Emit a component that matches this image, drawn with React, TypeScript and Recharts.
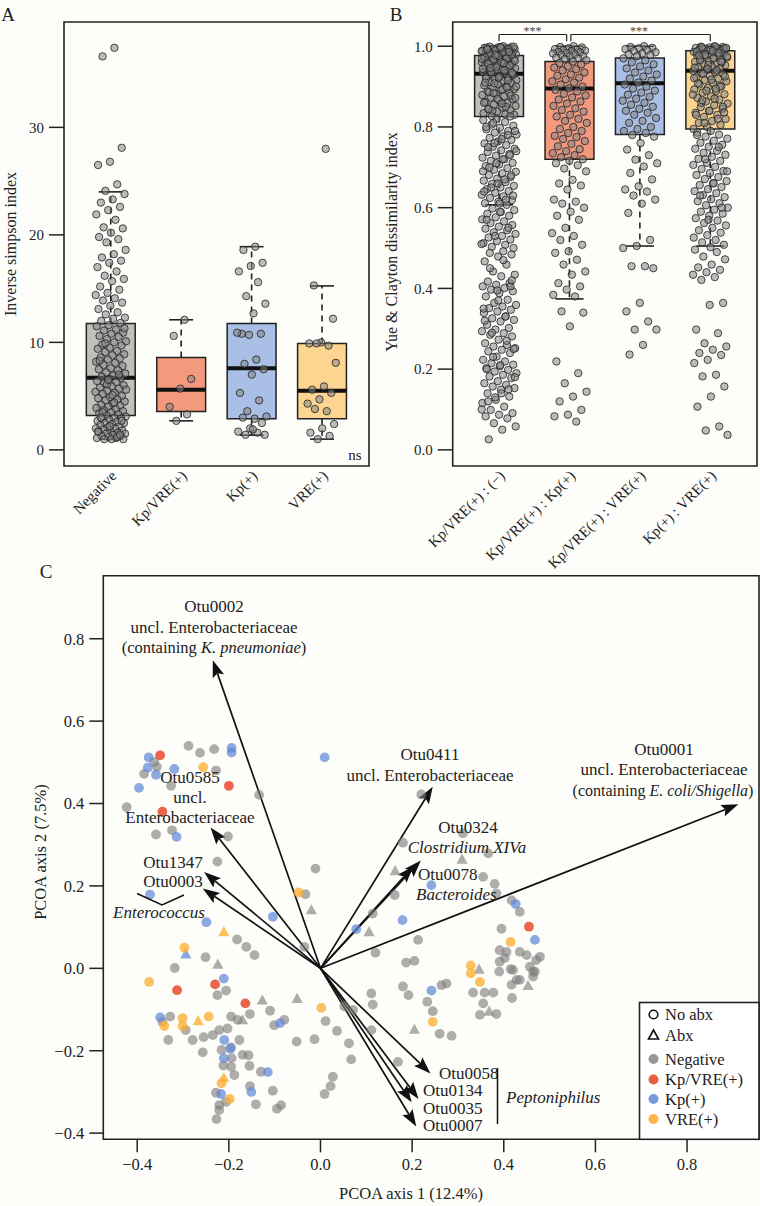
import React from 'react';
import { ScatterChart, Scatter, XAxis, YAxis, ReferenceArea, ReferenceLine } from 'recharts';

const FONT = '"Liberation Serif", "Times New Roman", serif';
const INK = '#222';

// ---------------- Panel A data ----------------
const catsA = ['Negative', 'Kp/VRE(+)', 'Kp(+)', 'VRE(+)'];
const fillsAB = ['#c2bebb', '#f3997d', '#a9bfe5', '#fdd590'];
const minA = [1.0, 2.7, 1.37, 1.0];
const q1A = [3.2, 3.57, 2.9, 2.9];
const medA = [6.7, 5.6, 7.6, 5.5];
const q3A = [11.75, 8.6, 11.75, 9.9];
const maxA = [24.0, 12.1, 18.9, 15.25];

const negA = [37.4, 36.6, 28.1, 26.8, 26.5, 24.7, 24.1, 23.8, 23.3, 23.0, 22.6, 22.3, 21.9, 21.4, 20.7, 20.6, 20.2, 19.8, 19.6, 19.3, 18.6, 18.2, 17.9, 17.6, 17.4, 17.0, 16.6, 16.2, 15.9, 15.7, 15.2, 14.9, 14.6, 14.4, 14.1, 13.9, 13.7, 13.4, 13.1, 12.8, 12.6, 12.3, 12.2, 12.0, 11.8, 11.6, 11.5, 11.2, 11.1, 10.9, 10.8, 10.6, 10.5, 10.3, 10.1, 10.0, 9.8, 9.7, 9.5, 9.4, 9.2, 9.1, 8.9, 8.8, 8.6, 8.5, 8.4, 8.2, 8.1, 7.9, 7.8, 7.6, 7.5, 7.4, 7.2, 7.1, 6.9, 6.8, 6.7, 6.6, 6.4, 6.3, 6.2, 6.0, 5.9, 5.8, 5.7, 5.5, 5.4, 5.3, 5.2, 5.0, 4.9, 4.8, 4.7, 4.6, 4.5, 4.3, 4.2, 4.1, 4.0, 3.9, 3.8, 3.7, 3.6, 3.5, 3.4, 3.3, 3.2, 3.1, 3.0, 2.9, 2.9, 2.8, 2.7, 2.6, 2.5, 2.5, 2.4, 2.3, 2.2, 2.1, 2.0, 2.0, 1.9, 1.8, 1.8, 1.7, 1.6, 1.5, 1.5, 1.4, 1.3, 1.3, 1.2, 1.1, 1.1, 1.0, 1.0, 1.0, 8.3, 7.0, 6.1, 5.6, 4.4, 3.5, 2.7, 2.2, 1.7, 1.2, 9.9, 11.3, 5.1, 3.0, 1.4, 6.5];
const kpvreA = [12.1, 10.6, 6.6, 5.7, 4.0, 3.3, 2.7];
const kpA = [18.9, 18.6, 17.4, 17.1, 16.6, 15.6, 14.3, 13.6, 12.7, 10.8, 10.8, 10.7, 10.9, 8.4, 8.0, 7.5, 7.0, 5.3, 4.6, 3.6, 3.1, 2.9, 3.0, 2.5, 2.0, 1.7, 1.6, 1.4, 1.4, 1.9];
const vreA = [28.0, 15.3, 12.2, 10.0, 9.9, 9.7, 9.9, 8.1, 5.9, 5.6, 5.3, 4.7, 4.3, 3.6, 3.8, 2.4, 2.0, 1.6, 1.3, 1.0];
const spreadA = [0.22, 0.2, 0.22, 0.22];

// ---------------- Panel B data ----------------
const catsB = ['Kp/VRE(+) : (\u2212)', 'Kp/VRE(+) : Kp(+)', 'Kp/VRE(+) : VRE(+)', 'Kp(+) : VRE(+)'];
const minB = [0.607, 0.374, 0.505, 0.505];
const q1B = [0.826, 0.72, 0.781, 0.795];
const medB = [0.932, 0.895, 0.908, 0.939];
const q3B = [0.977, 0.962, 0.971, 0.989];
const maxB = [1.0, 1.0, 1.0, 1.0];

const negB = [1.0, 0.999, 0.998, 0.997, 0.996, 0.995, 0.994, 0.993, 0.992, 0.991, 0.99, 0.989, 0.988, 0.987, 0.986, 0.985, 0.984, 0.983, 0.982, 0.981, 0.98, 0.978, 0.977, 0.975, 0.974, 0.972, 0.971, 0.969, 0.968, 0.966, 0.965, 0.963, 0.961, 0.96, 0.958, 0.956, 0.955, 0.953, 0.951, 0.949, 0.947, 0.945, 0.943, 0.941, 0.939, 0.937, 0.935, 0.933, 0.931, 0.929, 0.926, 0.924, 0.921, 0.919, 0.916, 0.914, 0.911, 0.909, 0.906, 0.903, 0.9, 0.897, 0.894, 0.891, 0.888, 0.885, 0.882, 0.879, 0.876, 0.873, 0.869, 0.866, 0.862, 0.859, 0.855, 0.852, 0.848, 0.845, 0.841, 0.838, 0.834, 0.831, 0.827, 0.999, 0.998, 0.996, 0.993, 0.99, 0.988, 0.985, 0.981, 0.979, 0.976, 0.973, 0.97, 0.967, 0.964, 0.96, 0.957, 0.952, 0.948, 0.944, 0.94, 0.936, 0.93, 0.925, 0.92, 0.915, 0.908, 0.9, 0.893, 0.886, 0.878, 0.87, 0.86, 0.85, 0.84, 0.83, 0.997, 0.992, 0.986, 0.978, 0.969, 0.958, 0.946, 0.934, 0.922, 0.91, 0.898, 0.884, 0.872, 0.858, 0.844,
  0.826, 0.82, 0.817, 0.812, 0.806, 0.803, 0.798, 0.794, 0.79, 0.786, 0.781, 0.777, 0.773, 0.768, 0.764, 0.759, 0.755, 0.751, 0.746, 0.742, 0.738, 0.733, 0.729, 0.724, 0.72, 0.716, 0.711, 0.707, 0.703, 0.698, 0.694, 0.689, 0.685, 0.681, 0.676, 0.672, 0.667, 0.663, 0.659, 0.654, 0.65, 0.646, 0.641, 0.637, 0.632, 0.628, 0.624, 0.619, 0.615, 0.611, 0.607, 0.81, 0.79, 0.77, 0.75, 0.73, 0.71, 0.69, 0.67, 0.65, 0.63, 0.61, 0.8, 0.78, 0.76, 0.74, 0.72, 0.7, 0.68, 0.66, 0.64, 0.62,
  0.598, 0.594, 0.589, 0.585, 0.58, 0.576, 0.571, 0.566, 0.562, 0.557, 0.553, 0.548, 0.544, 0.539, 0.535, 0.53, 0.526, 0.521, 0.517, 0.512, 0.508, 0.503, 0.5, 0.59, 0.57, 0.55, 0.53, 0.51,
  0.492, 0.488, 0.484, 0.479, 0.467, 0.459, 0.442, 0.434, 0.43, 0.417, 0.413, 0.409, 0.405, 0.401, 0.397, 0.393, 0.388, 0.38, 0.372, 0.364, 0.359, 0.355, 0.351, 0.347, 0.343, 0.339, 0.331, 0.326, 0.322, 0.318, 0.31, 0.302, 0.298, 0.294, 0.289, 0.285, 0.281, 0.273, 0.264, 0.26, 0.256, 0.252, 0.248, 0.244, 0.24, 0.231, 0.223, 0.219, 0.215, 0.211, 0.207, 0.202, 0.198, 0.194, 0.19, 0.186, 0.182, 0.178, 0.17, 0.165, 0.161, 0.157, 0.153, 0.149, 0.14, 0.132, 0.124, 0.116, 0.107, 0.099, 0.091, 0.087, 0.083, 0.078, 0.066, 0.058, 0.05, 0.026, 0.405, 0.395, 0.35, 0.33, 0.29, 0.25, 0.21, 0.2, 0.15, 0.13, 0.1, 0.47, 0.45, 0.42, 0.37, 0.32, 0.27, 0.23, 0.18, 0.14, 0.12];
const kpvreKpB = [1.0, 0.998, 0.997, 0.995, 0.993, 0.991, 0.99, 0.989, 0.988, 0.986, 0.985, 0.983, 0.982, 0.98, 0.978, 0.976, 0.975, 0.972, 0.97, 0.968, 0.965, 0.962, 0.958, 0.955, 0.95, 0.947, 0.943, 0.94, 0.935, 0.93, 0.927, 0.922, 0.918, 0.913, 0.91, 0.905, 0.9, 0.896, 0.892, 0.888, 0.882, 0.878, 0.873, 0.868, 0.863, 0.858, 0.852, 0.846, 0.842, 0.838, 0.83, 0.826, 0.82, 0.815, 0.81, 0.8, 0.795, 0.79, 0.785, 0.778, 0.775, 0.77, 0.765, 0.758, 0.752, 0.745, 0.74, 0.735, 0.73, 0.725, 0.72, 0.716, 0.71, 0.705, 0.697, 0.69, 0.669, 0.66, 0.655, 0.645, 0.62, 0.615, 0.61, 0.6, 0.59, 0.58, 0.57, 0.55, 0.537, 0.53, 0.52, 0.508, 0.492, 0.488, 0.471, 0.459, 0.442, 0.434, 0.413, 0.405, 0.397, 0.384, 0.38, 0.343, 0.34, 0.306, 0.219, 0.19, 0.165, 0.144, 0.132, 0.12, 0.099, 0.087, 0.083, 0.07];
const kpvreVreB = [1.0, 0.998, 0.996, 0.995, 0.993, 0.99, 0.988, 0.985, 0.982, 0.98, 0.978, 0.975, 0.97, 0.965, 0.96, 0.955, 0.95, 0.945, 0.94, 0.935, 0.93, 0.925, 0.92, 0.915, 0.91, 0.905, 0.9, 0.895, 0.89, 0.885, 0.88, 0.875, 0.87, 0.865, 0.86, 0.855, 0.85, 0.845, 0.84, 0.835, 0.83, 0.822, 0.815, 0.81, 0.8, 0.795, 0.79, 0.785, 0.78, 0.776, 0.76, 0.744, 0.73, 0.719, 0.71, 0.702, 0.686, 0.67, 0.653, 0.645, 0.64, 0.63, 0.62, 0.61, 0.587, 0.52, 0.505, 0.5, 0.455, 0.455, 0.45, 0.364, 0.343, 0.318, 0.298, 0.298, 0.26, 0.236];
const kpVreB = [1.0, 0.999, 0.998, 0.997, 0.996, 0.995, 0.994, 0.993, 0.992, 0.99, 0.989, 0.988, 0.986, 0.985, 0.983, 0.982, 0.98, 0.978, 0.976, 0.974, 0.972, 0.97, 0.968, 0.966, 0.963, 0.961, 0.958, 0.956, 0.953, 0.95, 0.948, 0.945, 0.942, 0.939, 0.936, 0.933, 0.93, 0.926, 0.923, 0.92, 0.916, 0.913, 0.909, 0.905, 0.901, 0.897, 0.893, 0.889, 0.885, 0.881, 0.876, 0.872, 0.868, 0.863, 0.858, 0.854, 0.849, 0.845, 0.84, 0.835, 0.83, 0.825, 0.82, 0.815, 0.81, 0.805, 0.8, 0.795, 0.999, 0.997, 0.994, 0.991, 0.987, 0.984, 0.979, 0.975, 0.97, 0.965, 0.96, 0.954, 0.947, 0.94, 0.932, 0.925, 0.917, 0.908, 0.9, 0.89, 0.88, 0.87, 0.86, 0.85, 0.84, 0.83, 0.82, 0.81, 0.996, 0.988, 0.977, 0.962, 0.944, 0.921, 0.895, 0.866, 0.836,
  0.79, 0.786, 0.781, 0.776, 0.771, 0.766, 0.761, 0.756, 0.751, 0.746, 0.741, 0.736, 0.731, 0.726, 0.721, 0.716, 0.711, 0.706, 0.701, 0.696, 0.691, 0.686, 0.681, 0.676, 0.671, 0.666, 0.661, 0.656, 0.651, 0.646, 0.641, 0.636, 0.631, 0.626, 0.621, 0.616, 0.611, 0.606, 0.6, 0.595, 0.59, 0.585, 0.58, 0.574, 0.568, 0.562, 0.556, 0.55, 0.544, 0.538, 0.532, 0.526, 0.52, 0.514, 0.508, 0.502, 0.78, 0.75, 0.72, 0.69, 0.66, 0.63, 0.6, 0.57,
  0.496, 0.49, 0.479, 0.472, 0.459, 0.452, 0.446, 0.44, 0.434, 0.428, 0.421, 0.364, 0.359, 0.298, 0.289, 0.264, 0.256, 0.248, 0.24, 0.235, 0.223, 0.215, 0.186, 0.182, 0.157, 0.132, 0.107, 0.058, 0.048, 0.037];
const spreadB = [0.25, 0.25, 0.25, 0.25];

// ---------------- Panel C data ----------------
type P = [number, number];
const negC: P[] = [[-0.288, 0.540], [-0.263, 0.523], [-0.232, 0.532], [-0.363, 0.501], [-0.357, 0.489], [-0.228, 0.480], [-0.385, 0.472], [-0.326, 0.443], [-0.134, 0.421], [-0.423, 0.391], [-0.359, 0.325], [-0.324, 0.335], [-0.202, 0.320], [-0.225, 0.259], [-0.011, 0.242], [-0.033, 0.180], [-0.182, 0.070], [-0.162, 0.052], [-0.144, 0.032], [-0.035, 0.052], [-0.251, 0.027], [-0.318, 0.001], [-0.206, -0.054], [-0.225, -0.065], [-0.328, -0.117], [-0.345, -0.130], [-0.294, -0.150], [-0.195, -0.117], [-0.181, -0.125], [-0.154, -0.111], [-0.110, -0.103], [-0.101, -0.138], [0.011, -0.128], [0.036, -0.152], [-0.332, -0.174], [-0.279, -0.174], [-0.255, -0.167], [-0.235, -0.162], [-0.221, -0.150], [-0.203, -0.146], [-0.052, -0.178], [-0.013, -0.172], [-0.177, -0.174], [-0.195, -0.192], [-0.216, -0.198], [-0.257, -0.204], [-0.194, -0.218], [-0.170, -0.210], [-0.157, -0.211], [-0.212, -0.236], [-0.195, -0.239], [-0.155, -0.237], [-0.188, -0.259], [-0.130, -0.251], [0.027, -0.263], [0.022, -0.286], [0.009, -0.305], [-0.154, -0.286], [-0.228, -0.302], [-0.104, -0.297], [-0.206, -0.324], [-0.221, -0.332], [-0.141, -0.330], [-0.086, -0.332], [-0.095, -0.341], [-0.221, -0.344], [-0.227, -0.366],
  [0.180, 0.305], [0.311, 0.328], [0.366, 0.279], [0.355, 0.222], [0.380, 0.205], [0.384, 0.182], [0.162, 0.178], [0.114, 0.133], [0.213, 0.069], [0.120, 0.038], [0.417, 0.165], [0.435, 0.137], [0.395, 0.096], [0.391, 0.044], [0.187, 0.014], [0.205, 0.018], [0.390, -0.008], [0.420, -0.004], [0.435, -0.028], [0.464, -0.008], [0.180, -0.044], [0.192, -0.065], [0.264, -0.041], [0.275, -0.037], [0.111, -0.061], [0.333, -0.059], [0.358, -0.059], [0.377, -0.059], [0.418, -0.072], [0.233, -0.081], [0.114, -0.088], [0.355, -0.085], [0.384, -0.111], [0.052, -0.092], [0.071, -0.101], [0.391, 0.016], [0.415, -0.002], [0.457, 0.004], [0.468, -0.008], [0.471, 0.020], [0.464, -0.020], [0.428, -0.028], [0.417, -0.040], [0.479, 0.028], [0.450, 0.032], [0.406, 0.040], [0.435, 0.040], [0.402, 0.025], [0.348, -0.113], [0.245, -0.104], [0.260, -0.159], [0.286, -0.164], [0.169, -0.227], [0.062, -0.182], [0.067, -0.221], [0.111, -0.150], [-0.079, -0.125], [0.220, 0.422]];
const negTriC: P[] = [[-0.020, 0.142], [-0.224, 0.010], [-0.127, -0.077], [-0.051, -0.073], [-0.170, -0.125], [0.163, 0.237], [0.309, 0.265], [0.106, 0.089], [0.346, -0.002], [0.453, -0.042], [0.368, -0.104], [0.205, -0.148]];
const kpvreC: P[] = [[-0.350, 0.517], [-0.200, 0.443], [-0.345, 0.380], [-0.313, -0.053], [-0.230, -0.039], [-0.164, -0.085], [0.455, 0.101]];
const kpC: P[] = [[-0.194, 0.535], [-0.194, 0.524], [-0.375, 0.512], [-0.377, 0.487], [-0.319, 0.484], [-0.359, 0.470], [-0.396, 0.438], [0.009, 0.512], [-0.314, 0.319], [-0.372, 0.179], [-0.104, 0.125], [-0.249, 0.112], [-0.211, -0.025], [-0.350, -0.119], [-0.088, -0.133], [-0.210, -0.174], [-0.197, -0.195], [-0.211, -0.218], [-0.115, -0.252], [-0.151, -0.300], [-0.217, -0.305], [0.242, 0.202], [0.179, 0.117], [0.078, 0.095], [0.426, 0.156], [0.468, 0.069], [0.242, -0.054]];
const kpTriC: P[] = [[-0.294, 0.035]];
const vreC: P[] = [[-0.256, 0.488], [-0.048, 0.184], [-0.297, 0.050], [-0.374, -0.033], [0.002, -0.096], [-0.301, -0.121], [-0.244, -0.117], [-0.341, -0.140], [-0.301, -0.140], [-0.216, -0.279], [-0.198, -0.317], [0.415, 0.064], [0.328, 0.007], [0.328, -0.012], [0.348, -0.033], [0.245, -0.130]];
const vreTriC: P[] = [[-0.211, 0.089], [-0.267, -0.127], [-0.211, -0.265]];

const arrowNames = ['Otu0002', 'Otu0585', 'Otu1347', 'Otu0003', 'Otu0411', 'Otu0324', 'Otu0078', 'Otu0001', 'Otu0058', 'Otu0134', 'Otu0035', 'Otu0007'];
const arrowX = [-0.235, -0.240, -0.254, -0.257, 0.245, 0.219, 0.203, 0.912, 0.240, 0.214, 0.199, 0.209];
const arrowY = [0.748, 0.342, 0.234, 0.194, 0.441, 0.262, 0.248, 0.398, -0.255, -0.317, -0.325, -0.384];
const ticksC = [-0.4, -0.2, 0.0, 0.2, 0.4, 0.6, 0.8];

const colNeg = '#7f7d7b';
const colKpVre = '#e94a2c';
const colKp = '#5f88d6';
const colVre = '#fdae33';

// ---------------- helpers ----------------
const jitter = (i: number, spread: number) => ((((i + 1) * 0.6180339887) % 1) - 0.5) * 2 * spread;

const toPts = (groups: number[][], spreads: number[]) =>
  groups.flatMap((vals, g) => vals.map((v, i) => ({ x: g + 1 + jitter(i, spreads[g]), y: v })));

const ptsA = toPts([negA, kpvreA, kpA, vreA], spreadA);
const ptsB = toPts([negB, kpvreKpB, kpvreVreB, kpVreB], spreadB);
const toXY = (arr: P[]) => arr.map(([x, y]) => ({ x, y }));

const dotAB = (p: any) => (
  <circle cx={p.cx} cy={p.cy} r={3.7} fill="#858585" fillOpacity={0.55} stroke="#222" strokeOpacity={0.8} strokeWidth={1} />
);
const dotC = (color: string, op: number) => (p: any) => (
  <circle cx={p.cx} cy={p.cy} r={4.9} fill={color} fillOpacity={op} />
);
const triC = (color: string, op: number) => (p: any) => {
  const s = 5.6;
  return <polygon points={`${p.cx},${p.cy - s} ${p.cx - s},${p.cy + s * 0.8} ${p.cx + s},${p.cy + s * 0.8}`} fill={color} fillOpacity={op} />;
};

const ArrowShape = (p: any) => {
  const { x1, y1, x2, y2 } = p;
  const dx = x2 - x1, dy = y2 - y1;
  const len = Math.hypot(dx, dy) || 1;
  const ux = dx / len, uy = dy / len;
  const hl = 17, hw = 6;
  const bx = x2 - ux * hl, by = y2 - uy * hl;
  return (
    <g>
      <line x1={x1} y1={y1} x2={bx + ux * 3} y2={by + uy * 3} stroke="#111" strokeWidth={1.7} />
      <polygon points={`${x2},${y2} ${bx - uy * hw},${by + ux * hw} ${bx + ux * 3},${by + uy * 3} ${bx + uy * hw},${by - ux * hw}`} fill="#111" />
    </g>
  );
};

const makeRotTick = (labels: string[]) => (p: any) => {
  const { x, y, payload } = p;
  return (
    <g transform={`translate(${x + 3},${y + 7})`}>
      <text x={0} y={0} dy="0.35em" transform="rotate(-45)" textAnchor="end" fontSize={15} fill={INK} fontFamily={FONT}>
        {labels[Math.round(payload.value) - 1]}
      </text>
    </g>
  );
};

function boxElements(key: string, mins: number[], q1s: number[], meds: number[], q3s: number[], maxs: number[], hw: number, cw: number, under: boolean) {
  const out: any[] = [];
  mins.forEach((_, g) => {
    const c = g + 1;
    if (under) {
      out.push(
        <ReferenceArea key={`${key}b${g}`} x1={c - hw} x2={c + hw} y1={q1s[g]} y2={q3s[g]} fill={fillsAB[g]} fillOpacity={1} stroke={INK} strokeWidth={1.5} ifOverflow="visible" />
      );
    } else {
      out.push(
        <ReferenceLine key={`${key}wu${g}`} segment={[{ x: c, y: q3s[g] }, { x: c, y: maxs[g] }]} stroke={INK} strokeWidth={1.6} strokeDasharray="6 5" ifOverflow="visible" />,
        <ReferenceLine key={`${key}wl${g}`} segment={[{ x: c, y: q1s[g] }, { x: c, y: mins[g] }]} stroke={INK} strokeWidth={1.6} strokeDasharray="6 5" ifOverflow="visible" />,
        <ReferenceLine key={`${key}cu${g}`} segment={[{ x: c - cw, y: maxs[g] }, { x: c + cw, y: maxs[g] }]} stroke={INK} strokeWidth={1.6} ifOverflow="visible" />,
        <ReferenceLine key={`${key}cl${g}`} segment={[{ x: c - cw, y: mins[g] }, { x: c + cw, y: mins[g] }]} stroke={INK} strokeWidth={1.6} ifOverflow="visible" />,
        <ReferenceLine key={`${key}m${g}`} segment={[{ x: c - hw, y: meds[g] }, { x: c + hw, y: meds[g] }]} stroke="#111" strokeWidth={4} ifOverflow="visible" />
      );
    }
  });
  return out;
}

const tickStyle = { fontSize: 15, fill: INK, fontFamily: FONT };
const tickStyleC = { fontSize: 16.5, fill: INK, fontFamily: FONT };
const fmtMinus = (v: number, d: number) => (v < 0 ? '\u2212' : '') + Math.abs(v).toFixed(d);

function PanelA() {
  const xd: [number, number] = [0.336, 4.667];
  const yd: [number, number] = [-1.5, 39.8];
  return (
    <ScatterChart width={380} height={560} margin={{ top: 22, right: 11, bottom: 14, left: 0 }}>
      <XAxis type="number" dataKey="x" domain={xd} ticks={[1, 2, 3, 4]} interval={0} allowDataOverflow tickLine={false} axisLine={false} tickSize={0} tickMargin={0} height={80} tick={makeRotTick(catsA)} />
      <YAxis type="number" dataKey="y" domain={yd} ticks={[0, 10, 20, 30]} allowDataOverflow width={64} axisLine={false} tickSize={15} tickMargin={5} tickLine={{ stroke: INK, strokeWidth: 1.5 }} tick={tickStyle} />
      {boxElements('a', minA, q1A, medA, q3A, maxA, 0.347, 0.17, true)}
      <Scatter data={ptsA} shape={dotAB} isAnimationActive={false} />
      {boxElements('a', minA, q1A, medA, q3A, maxA, 0.347, 0.17, false)}
      <ReferenceArea x1={xd[0]} x2={xd[1]} y1={yd[0]} y2={yd[1]} fill="none" fillOpacity={0} stroke={INK} strokeWidth={1.6} ifOverflow="visible" />
    </ScatterChart>
  );
}

function PanelB() {
  const xd: [number, number] = [0.342, 4.663];
  const yd: [number, number] = [-0.04, 1.06];
  return (
    <ScatterChart width={380} height={560} margin={{ top: 22, right: 3, bottom: 14, left: 0 }}>
      <XAxis type="number" dataKey="x" domain={xd} ticks={[1, 2, 3, 4]} interval={0} allowDataOverflow tickLine={false} axisLine={false} tickSize={0} tickMargin={0} height={80} tick={makeRotTick(catsB)} />
      <YAxis type="number" dataKey="y" domain={yd} ticks={[0, 0.2, 0.4, 0.6, 0.8, 1.0]} tickFormatter={(v: number) => v.toFixed(1)} allowDataOverflow width={72.7} axisLine={false} tickSize={15} tickMargin={5} tickLine={{ stroke: INK, strokeWidth: 1.5 }} tick={tickStyle} />
      {boxElements('b', minB, q1B, medB, q3B, maxB, 0.347, 0.2, true)}
      <Scatter data={ptsB} shape={dotAB} isAnimationActive={false} />
      {boxElements('b', minB, q1B, medB, q3B, maxB, 0.347, 0.2, false)}
      <ReferenceLine segment={[{ x: 1, y: 1.029 }, { x: 1.96, y: 1.029 }]} stroke={INK} strokeWidth={1.2} ifOverflow="visible" />
      <ReferenceLine segment={[{ x: 1, y: 1.029 }, { x: 1, y: 1.012 }]} stroke={INK} strokeWidth={1.2} ifOverflow="visible" />
      <ReferenceLine segment={[{ x: 1.96, y: 1.029 }, { x: 1.96, y: 1.012 }]} stroke={INK} strokeWidth={1.2} ifOverflow="visible" />
      <ReferenceLine segment={[{ x: 2.02, y: 1.029 }, { x: 4, y: 1.029 }]} stroke={INK} strokeWidth={1.2} ifOverflow="visible" />
      <ReferenceLine segment={[{ x: 2.02, y: 1.029 }, { x: 2.02, y: 1.012 }]} stroke={INK} strokeWidth={1.2} ifOverflow="visible" />
      <ReferenceLine segment={[{ x: 4, y: 1.029 }, { x: 4, y: 1.012 }]} stroke={INK} strokeWidth={1.2} ifOverflow="visible" />
      <ReferenceArea x1={xd[0]} x2={xd[1]} y1={yd[0]} y2={yd[1]} fill="none" fillOpacity={0} stroke={INK} strokeWidth={1.6} ifOverflow="visible" />
    </ScatterChart>
  );
}

function PanelC() {
  const xd: [number, number] = [-0.474, 0.957];
  const yd: [number, number] = [-0.415, 0.953];
  return (
    <ScatterChart width={760} height={646} margin={{ top: 15.7, right: 1, bottom: 10, left: 0 }}>
      <XAxis type="number" dataKey="x" domain={xd} ticks={ticksC} interval={0} allowDataOverflow axisLine={false} tickSize={13} tickMargin={6} height={56.7} tickLine={{ stroke: INK, strokeWidth: 1.5 }} tick={tickStyleC} tickFormatter={(v: number) => fmtMinus(v, 1)} />
      <YAxis type="number" dataKey="y" domain={yd} ticks={ticksC} interval={0} allowDataOverflow width={103.3} axisLine={false} tickSize={14} tickMargin={5} tickLine={{ stroke: INK, strokeWidth: 1.5 }} tick={tickStyleC} tickFormatter={(v: number) => fmtMinus(v, 1)} />
      <Scatter data={toXY(negC)} shape={dotC(colNeg, 0.62)} isAnimationActive={false} />
      <Scatter data={toXY(negTriC)} shape={triC(colNeg, 0.62)} isAnimationActive={false} />
      <Scatter data={toXY(kpvreC)} shape={dotC(colKpVre, 0.85)} isAnimationActive={false} />
      <Scatter data={toXY(kpC)} shape={dotC(colKp, 0.72)} isAnimationActive={false} />
      <Scatter data={toXY(kpTriC)} shape={triC(colKp, 0.72)} isAnimationActive={false} />
      <Scatter data={toXY(vreC)} shape={dotC(colVre, 0.78)} isAnimationActive={false} />
      <Scatter data={toXY(vreTriC)} shape={triC(colVre, 0.78)} isAnimationActive={false} />
      {arrowNames.map((n, i) => (
        <ReferenceLine key={n} segment={[{ x: 0, y: 0 }, { x: arrowX[i], y: arrowY[i] }]} shape={ArrowShape} ifOverflow="visible" />
      ))}
      <ReferenceArea x1={xd[0]} x2={xd[1]} y1={yd[0]} y2={yd[1]} fill="none" fillOpacity={0} stroke={INK} strokeWidth={1.6} ifOverflow="visible" />
    </ScatterChart>
  );
}

const T = ({ x, y, children, anchor = 'middle', size = 17, italic = false, color = INK, rotate = 0 }: any) => (
  <text x={x} y={y} textAnchor={anchor} dominantBaseline="central" fontSize={size} fontStyle={italic ? 'italic' : 'normal'} fill={color} fontFamily={FONT}
    transform={rotate ? `rotate(${rotate},${x},${y})` : undefined}>
    {children}
  </text>
);

function Overlay() {
  const lgX = 653.5, lgT = 665;
  return (
    <svg width={760} height={1206} style={{ position: 'absolute', left: 0, top: 0, pointerEvents: 'none' }}>
      <T x={8} y={14} size={19}>A</T>
      <T x={396} y={14} size={19}>B</T>
      <T x={46} y={571} size={19}>C</T>
      <T x={10} y={244} size={16} rotate={-90}>Inverse simpson index</T>
      <T x={391} y={242} size={16} rotate={-90}>Yue &amp; Clayton dissimilarity index</T>
      <T x={355} y={455} size={15}>ns</T>
      <T x={532.5} y={31} size={12} color="#444">***</T>
      <T x={639} y={31} size={12} color="#444">***</T>

      <T x={411} y={1193} size={16.5}>PCOA axis 1 (12.4%)</T>
      <T x={40} y={852} size={16.5} rotate={-90}>PCOA axis 2 (7.5%)</T>

      <T x={214} y={606}>Otu0002</T>
      <T x={214} y={627}>uncl. Enterobacteriaceae</T>
      <T x={214} y={647} size={16.5}>(containing <tspan fontStyle="italic">K. pneumoniae</tspan>)</T>
      <T x={190} y={777}>Otu0585</T>
      <T x={190} y={797}>uncl.</T>
      <T x={190} y={817}>Enterobacteriaceae</T>
      <T x={173} y={862}>Otu1347</T>
      <T x={173} y={881}>Otu0003</T>
      <T x={159} y={912} italic>Enterococcus</T>
      <polyline points="137,893.5 162,905 184,895" fill="none" stroke="#111" strokeWidth={1.5} />
      <T x={430} y={754}>Otu0411</T>
      <T x={430} y={775}>uncl. Enterobacteriaceae</T>
      <T x={664} y={749}>Otu0001</T>
      <T x={664} y={769}>uncl. Enterobacteriaceae</T>
      <T x={663} y={790} size={16}>(containing <tspan fontStyle="italic">E. coli/Shigella</tspan>)</T>
      <T x={468} y={827}>Otu0324</T>
      <T x={467} y={847} italic>Clostridium XIVa</T>
      <T x={418} y={874} anchor="start">Otu0078</T>
      <T x={416} y={894} anchor="start" italic>Bacteroides</T>
      <T x={439} y={1073} anchor="start">Otu0058</T>
      <T x={423} y={1090} anchor="start">Otu0134</T>
      <T x={423} y={1108} anchor="start">Otu0035</T>
      <T x={423} y={1125} anchor="start">Otu0007</T>
      <line x1={497.5} y1={1068} x2={497.5} y2={1124} stroke="#111" strokeWidth={1.5} />
      <T x={506} y={1097} anchor="start" italic>Peptoniphilus</T>

      <rect x={639.5} y={1002.5} width={119.5} height={136.8} fill="#fff" stroke={INK} strokeWidth={1.6} />
      <circle cx={lgX} cy={1014.5} r={4.3} fill="none" stroke="#111" strokeWidth={1.6} />
      <T x={lgT} y={1014.5} anchor="start" size={16.5}>No abx</T>
      <polygon points={`${lgX},${1030} ${lgX - 5},${1039} ${lgX + 5},${1039}`} fill="none" stroke="#111" strokeWidth={1.6} />
      <T x={lgT} y={1035} anchor="start" size={16.5}>Abx</T>
      <circle cx={lgX} cy={1059} r={5} fill={colNeg} fillOpacity={0.8} />
      <T x={lgT} y={1059} anchor="start" size={16.5}>Negative</T>
      <circle cx={lgX} cy={1079.5} r={5} fill={colKpVre} fillOpacity={0.9} />
      <T x={lgT} y={1079.5} anchor="start" size={16.5}>Kp/VRE(+)</T>
      <circle cx={lgX} cy={1099} r={5} fill={colKp} fillOpacity={0.85} />
      <T x={lgT} y={1099} anchor="start" size={16.5}>Kp(+)</T>
      <circle cx={lgX} cy={1119} r={5} fill={colVre} fillOpacity={0.9} />
      <T x={lgT} y={1119} anchor="start" size={16.5}>VRE(+)</T>
    </svg>
  );
}

export default function App() {
  return (
    <div style={{ position: 'absolute', left: 0, top: 0, width: 760, height: 1206, background: '#fdfdfa', fontFamily: FONT, overflow: 'hidden' }}>
      <style>{'.recharts-surface { overflow: visible; }'}</style>
      <div style={{ position: 'absolute', left: 0, top: 0 }}><PanelA /></div>
      <div style={{ position: 'absolute', left: 380, top: 0 }}><PanelB /></div>
      <div style={{ position: 'absolute', left: 0, top: 560 }}><PanelC /></div>
      <Overlay />
    </div>
  );
}
